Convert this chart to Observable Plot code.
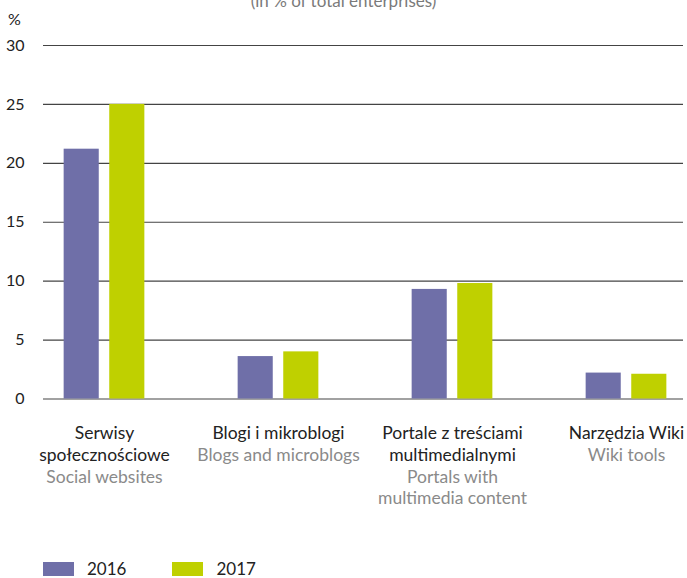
<!DOCTYPE html>
<html>
<head>
<meta charset="utf-8">
<script src="https://cdn.jsdelivr.net/npm/d3@7"></script>
<script src="https://cdn.jsdelivr.net/npm/@observablehq/plot@0.6"></script>
<style>
  html, body { margin: 0; padding: 0; background: #fff; overflow: hidden; }
  body { font-family: "Lato", "Open Sans", sans-serif; }
  #wrap { position: relative; width: 687px; height: 578px; }
  #title { position: absolute; top: -8px; left: 0; width: 687px; text-align: center; font-size: 17px; line-height: 17px; color: #7a7a7a; }
  #unit { position: absolute; top: 9px; left: 8px; font-size: 16px; color: #222; }
  #legend { position: absolute; left: 43px; top: 562px; display: flex; align-items: center; font-size: 17px; line-height: 14px; color: #222; }
  .sw { width: 31px; height: 14px; display: inline-block; margin-right: 13px; }
  .item { display: flex; align-items: center; margin-right: 46px; }
</style>
</head>
<body>
<div id="wrap">
  <div id="title">(in % of total enterprises)</div>
  <div id="unit">%</div>
  <div id="chart"></div>
  <div id="legend"></div>
</div>
<script>
const categories = ["social", "blogs", "portals", "wiki"];
const polishLabels = ["Serwisy\nspołecznościowe", "Blogi i mikroblogi", "Portale z treściami\nmultimedialnymi", "Narzędzia Wiki"];
const englishLabels = ["Social websites", "Blogs and microblogs", "Portals with\nmultimedia content", "Wiki tools"];
const years = ["2016", "2017"];
const values2016 = [21.2, 3.6, 9.3, 2.2];
const values2017 = [25.0, 4.0, 9.8, 2.1];
const yTicks = [0, 5, 10, 15, 20, 25, 30];
const colors = ["#6f6fa8", "#bfd000"];

const d2016 = categories.map((c, i) => ({cat: c, value: values2016[i]}));
const d2017 = categories.map((c, i) => ({cat: c, value: values2017[i]}));
const labels = categories.map((c, i) => ({cat: c, pl: polishLabels[i], en: englishLabels[i], plLines: polishLabels[i].split("\n").length}));

const band = 174.5, barW = 35.6, inset = (band - barW) / 2, off = 22.8;
const lineH = 21.7, firstDy = 25;
const fontSize = 17.5;

const chart = Plot.plot({
  width: 687,
  height: 560,
  marginTop: 45,
  marginBottom: 161.5,
  marginLeft: 43,
  marginRight: 4,
  style: {fontFamily: "Lato, 'Open Sans', sans-serif", fontSize: "15px", color: "#222", background: "transparent"},
  x: {type: "band", domain: categories, range: [15.75, 15.75 + 4 * band], paddingInner: 0, paddingOuter: 0, axis: null},
  y: {domain: [0, 30], ticks: yTicks, label: null},
  marks: [
    Plot.ruleY(yTicks, {stroke: "#444", strokeWidth: 1.2}),
    Plot.axisY({ticks: yTicks, tickSize: 0, tickPadding: 19, fontSize: 16, fill: "#222", label: null}),
    Plot.barY(d2016, {x: "cat", y: "value", fill: colors[0], dx: -off, insetLeft: inset, insetRight: inset}),
    Plot.barY(d2017, {x: "cat", y: "value", fill: colors[1], dx: off, insetLeft: inset, insetRight: inset}),
    Plot.text(labels, {x: "cat", text: "pl", frameAnchor: "bottom", lineAnchor: "top", dy: firstDy, lineHeight: lineH / fontSize, fontSize: fontSize, fill: "#222"}),
    Plot.text(labels.filter(d => d.plLines === 1), {x: "cat", text: "en", frameAnchor: "bottom", lineAnchor: "top", dy: firstDy + lineH, lineHeight: lineH / fontSize, fontSize: fontSize, fill: "#8a8a8a"}),
    Plot.text(labels.filter(d => d.plLines === 2), {x: "cat", text: "en", frameAnchor: "bottom", lineAnchor: "top", dy: firstDy + 2 * lineH, lineHeight: lineH / fontSize, fontSize: fontSize, fill: "#8a8a8a"})
  ]
});
document.getElementById("chart").appendChild(chart);

const legend = document.getElementById("legend");
years.forEach((y, i) => {
  const item = document.createElement("div");
  item.className = "item";
  const sw = document.createElement("span");
  sw.className = "sw";
  sw.style.background = colors[i];
  item.appendChild(sw);
  item.appendChild(document.createTextNode(y));
  legend.appendChild(item);
});
</script>
</body>
</html>
